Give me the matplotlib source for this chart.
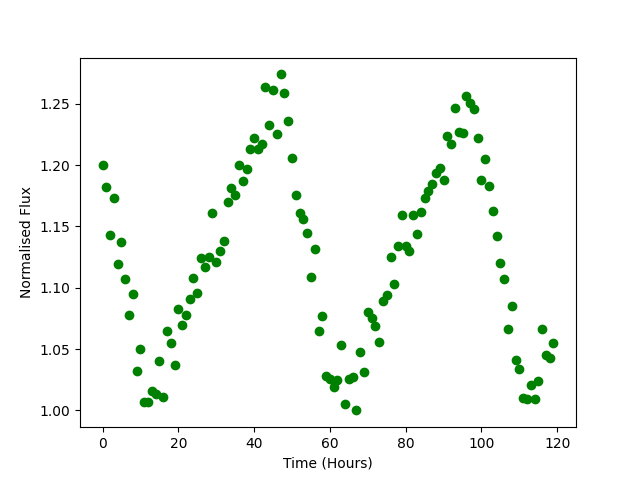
import numpy as np
import matplotlib
matplotlib.use("Agg")
import matplotlib.pyplot as plt

# time in hours, one reading per hour
hours = np.arange(0, 120)

# normalised flux
flux = [1.200, 1.182, 1.143, 1.173, 1.119, 1.137, 1.107, 1.078, 1.095, 1.032,
        1.050, 1.007, 1.007, 1.016, 1.013, 1.040, 1.011, 1.065, 1.055, 1.037,
        1.083, 1.070, 1.078, 1.091, 1.108, 1.096, 1.124, 1.117, 1.125, 1.161,
        1.121, 1.130, 1.138, 1.170, 1.181, 1.176, 1.200, 1.187, 1.197, 1.213,
        1.222, 1.213, 1.217, 1.264, 1.233, 1.261, 1.225, 1.274, 1.259, 1.236,
        1.206, 1.176, 1.161, 1.156, 1.145, 1.109, 1.132, 1.065, 1.077, 1.028,
        1.026, 1.019, 1.025, 1.053, 1.005, 1.026, 1.027, 1.000, 1.048, 1.031,
        1.080, 1.075, 1.069, 1.056, 1.089, 1.094, 1.125, 1.103, 1.134, 1.159,
        1.134, 1.130, 1.159, 1.144, 1.162, 1.173, 1.179, 1.185, 1.194, 1.198,
        1.188, 1.224, 1.217, 1.247, 1.227, 1.226, 1.256, 1.251, 1.246, 1.222,
        1.188, 1.205, 1.183, 1.163, 1.142, 1.120, 1.107, 1.066, 1.085, 1.041,
        1.034, 1.010, 1.009, 1.021, 1.009, 1.024, 1.066, 1.045, 1.043, 1.055]

plt.figure(figsize=(6.4, 4.8), dpi=100)
plt.plot(hours, flux, 'go')
plt.xlabel('Time (Hours)')
plt.ylabel('Normalised Flux')
plt.savefig('out.png')
